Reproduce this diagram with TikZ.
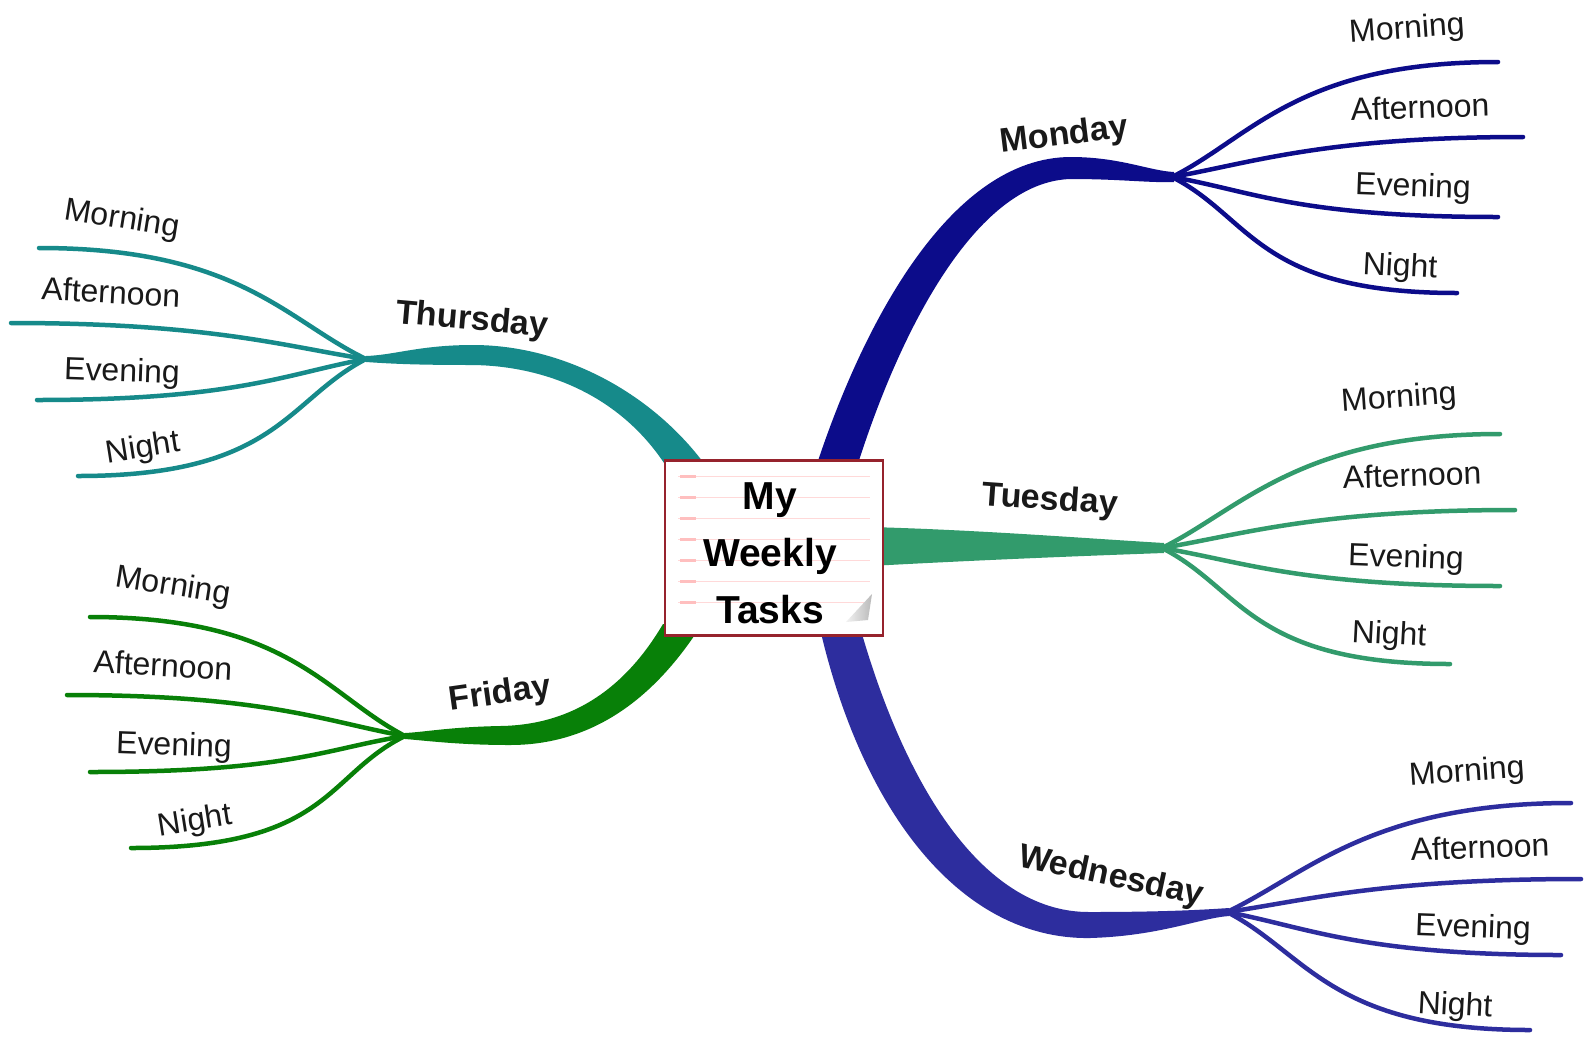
\documentclass[tikz,border=0pt]{standalone}
\usepackage{fontspec}
\setmainfont{Liberation Sans}

\definecolor{monC}{RGB}{12,12,138}
\definecolor{tueC}{RGB}{50,155,108}
\definecolor{wedC}{RGB}{45,45,158}
\definecolor{thuC}{RGB}{22,138,138}
\definecolor{friC}{RGB}{8,128,8}
\definecolor{boxC}{RGB}{150,35,45}
\definecolor{txtC}{RGB}{25,25,25}

\tikzset{
  sub/.style={font=\fontsize{32}{36}\selectfont, text=txtC, inner sep=0pt},
  day/.style={font=\bfseries\fontsize{34}{40}\selectfont, text=txtC, inner sep=0pt},
  twig/.style={line width=4.5pt, line cap=round},
}

\begin{document}
\begin{tikzpicture}[x=1pt,y=-1pt]
\useasboundingbox (0,0) rectangle (1584,1042);
\fill[white] (0,0) rectangle (1584,1042);

% 分支交点
\coordinate (mon) at (1172,177);
\coordinate (tue) at (1162,548);
\coordinate (wed) at (1227,912);
\coordinate (thu) at (366,359);
\coordinate (fri) at (405,736);

% 粗分支
\fill[monC] (815,470) .. controls (862,325) and (950,157) .. (1071,157) .. controls (1120,157) and (1150,171) .. (1174,172)
  -- (1174,182) .. controls (1150,183) and (1120,179) .. (1071,179) .. controls (975,181) and (898,335) .. (856,470) -- cycle;
\fill[tueC] (870,527) .. controls (980,530) and (1080,538) .. (1164,543)
  -- (1164,553) .. controls (1080,556) and (980,560) .. (870,566) -- cycle;
\fill[wedC] (818,620) .. controls (860,810) and (960,940) .. (1090,938) .. controls (1160,936) and (1200,918) .. (1229,916)
  -- (1229,908) .. controls (1200,910) and (1160,912) .. (1090,912) .. controls (985,913) and (905,790) .. (858,620) -- cycle;
\fill[thuC] (706,466) .. controls (650,390) and (560,345) .. (473,345) .. controls (420,345) and (395,355) .. (366,356)
  -- (366,362) .. controls (395,364) and (420,365) .. (473,365) .. controls (545,366) and (620,395) .. (666,466) -- cycle;
\fill[friC] (663,624) .. controls (630,680) and (580,725) .. (500,726) .. controls (450,727) and (425,732) .. (405,733)
  -- (405,739) .. controls (430,741) and (460,745) .. (510,745) .. controls (600,745) and (660,690) .. (702,624) -- cycle;

% 细分支 (右)
\foreach \x/\y/\lx/\ly/\r/\t [count=\i] in {1498/62/1407/30/4/Morning, 1523/137/1420/107/2/Afternoon, 1498/217/1413/188/-2/Evening, 1457/293/1400/268/-3/Night}{
  \coordinate (mon-e\i) at (\x,\y);
  \draw[twig,monC] (mon) .. controls +(80,{0.35*(\y-177)}) and +(-200,0) .. (mon-e\i);
  \node[sub,rotate=\r] (mon-\i) at (\lx,\ly) {\t};
}
\foreach \x/\y/\lx/\ly/\r/\t [count=\i] in {1500/434/1399/399/4/Morning, 1515/510/1412/475/2/Afternoon, 1500/586/1406/559/-2/Evening, 1450/664/1389/636/-3/Night}{
  \coordinate (tue-e\i) at (\x,\y);
  \draw[twig,tueC] (tue) .. controls +(80,{0.35*(\y-548)}) and +(-200,0) .. (tue-e\i);
  \node[sub,rotate=\r] (tue-\i) at (\lx,\ly) {\t};
}
\foreach \x/\y/\lx/\ly/\r/\t [count=\i] in {1571/803/1467/773/4/Morning, 1581/879/1480/847/2/Afternoon, 1561/955/1473/929/-2/Evening, 1530/1030/1455/1007/-3/Night}{
  \coordinate (wed-e\i) at (\x,\y);
  \draw[twig,wedC] (wed) .. controls +(80,{0.35*(\y-912)}) and +(-200,0) .. (wed-e\i);
  \node[sub,rotate=\r] (wed-\i) at (\lx,\ly) {\t};
}

% 细分支 (左)
\foreach \x/\y/\lx/\ly/\r/\t [count=\i] in {39/248/122/220/-9/Morning, 11/323/111/292/-3/Afternoon, 37/400/122/373/-2/Evening, 78/476/143/449/9/Night}{
  \coordinate (thu-e\i) at (\x,\y);
  \draw[twig,thuC] (thu) .. controls +(-80,{0.35*(\y-358)}) and +(200,0) .. (thu-e\i);
  \node[sub,rotate=\r] (thu-\i) at (\lx,\ly) {\t};
}
\foreach \x/\y/\lx/\ly/\r/\t [count=\i] in {90/617/173/587/-9/Morning, 67/695/163/665/-3/Afternoon, 90/772/174/747/-2/Evening, 131/848/195/822/9/Night}{
  \coordinate (fri-e\i) at (\x,\y);
  \draw[twig,friC] (fri) .. controls +(-80,{0.35*(\y-736)}) and +(200,0) .. (fri-e\i);
  \node[sub,rotate=\r] (fri-\i) at (\lx,\ly) {\t};
}

% 星期
\node[day,rotate=7] (monday) at (1064,136) {Monday};
\node[day,rotate=-4] (tuesday) at (1050,501) {Tuesday};
\node[day,rotate=-12] (wednesday) at (1111,877) {Wednesday};
\node[day,rotate=-5] (thursday) at (472,321) {Thursday};
\node[day,rotate=8] (friday) at (500,695) {Friday};

% 中心
\node[draw=boxC, line width=2.5pt, fill=white, minimum width=218, minimum height=175, inner sep=0pt] (box) at (774,548) {};
\foreach \y in {476,497,...,620}{
  \draw[red!15, line width=1pt] (678,\y) -- (870,\y);
  \draw[red!25, line width=3pt] (680,\y) -- (696,\y);
}
\shade[left color=gray!10, right color=gray!55] (846,622) -- (872,594) -- (868,620) -- cycle;
\node[font=\bfseries\fontsize{39}{57}\selectfont, align=center, text=black] (title) at (770,553) {My\\Weekly\\Tasks};
\end{tikzpicture}
\end{document}
